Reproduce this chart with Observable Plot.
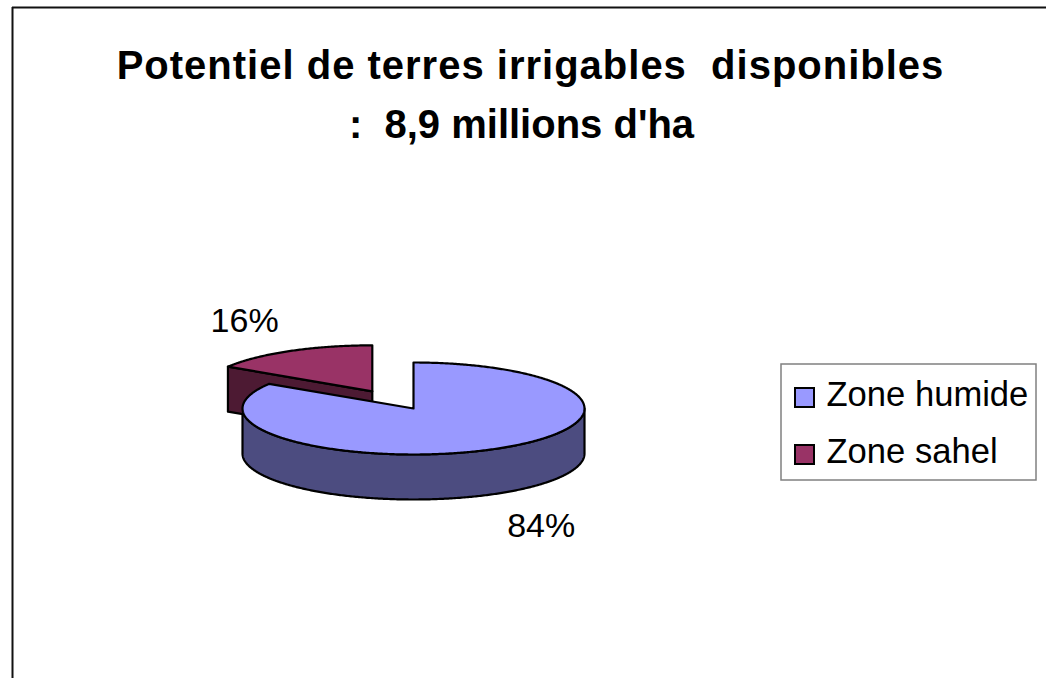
<!DOCTYPE html>
<html><head><meta charset="utf-8">
<script src="https://cdn.jsdelivr.net/npm/d3@7"></script>
<script src="https://cdn.jsdelivr.net/npm/@observablehq/plot@0.6"></script>
<style>
html,body{margin:0;padding:0;background:#fff;}
svg text{white-space:pre;}
</style></head><body><div id="chart"></div>
<script>
const categories = ["Zone humide", "Zone sahel"];
const values = [84, 16];
const valueLabels = ["84%", "16%"];
const colors = ["#9999FF", "#993366"];
const sideColors = ["#4C4C80", "#4D1A33"];
const exploded = [0, 0.5];
const titleLines = ["Potentiel de terres irrigables  disponibles", ":  8,9 millions d'ha"];

const W = 1046, H = 678;
const cx = 413, cy = 408, rx = 171, ry = 46, depth = 45;
const FONT = "'Liberation Sans', Arial, Helvetica, sans-serif";

const arcs = d3.pie().sort(null).value(d => d)(values);
function pt(ox, oy, a, dz = 0) { return {x: ox + rx * Math.sin(a), y: oy - ry * Math.cos(a) + dz}; }
function arcPts(ox, oy, a0, a1, dz = 0) {
  const n = Math.max(2, Math.ceil(Math.abs(a1 - a0) / 0.01));
  return d3.range(n + 1).map(i => pt(ox, oy, a0 + (a1 - a0) * i / n, dz));
}

const sideFaces = [], topFaces = [], labelPts = [];
arcs.forEach((a, i) => {
  const mid = (a.startAngle + a.endAngle) / 2;
  const e = exploded[i];
  const ox = cx + e * rx * Math.sin(mid), oy = cy - e * ry * Math.cos(mid) + (e ? 3 : 0);
  const V = {x: ox, y: oy}, Vd = {x: ox, y: oy + depth};
  if (Math.sin(a.startAngle) < -1e-6) {
    const E = pt(ox, oy, a.startAngle), Ed = pt(ox, oy, a.startAngle, depth);
    sideFaces.push({pts: [V, E, Ed, Vd, V], fill: sideColors[i]});
  }
  if (Math.sin(a.endAngle) > 1e-6) {
    const E = pt(ox, oy, a.endAngle), Ed = pt(ox, oy, a.endAngle, depth);
    sideFaces.push({pts: [V, E, Ed, Vd, V], fill: sideColors[i]});
  }
  const s0 = Math.max(a.startAngle, Math.PI / 2), s1 = Math.min(a.endAngle, 3 * Math.PI / 2);
  if (s1 > s0) {
    const top = arcPts(ox, oy, s0, s1), bot = arcPts(ox, oy, s1, s0, depth);
    sideFaces.push({pts: [...top, ...bot, top[0]], fill: sideColors[i]});
  }
  topFaces.push({pts: [V, ...arcPts(ox, oy, a.startAngle, a.endAngle), V], fill: colors[i]});
  const kx = 1.55, ky = 1.75;
  labelPts.push({
    x: ox + kx * rx * Math.sin(mid),
    y: oy - ky * ry * Math.cos(mid) + (Math.cos(mid) < 0 ? depth + 2 : 0),
    text: valueLabels[i]
  });
});

const faceMarks = [...sideFaces, ...topFaces].map(f =>
  Plot.line(f.pts, {x: "x", y: "y", fill: f.fill, stroke: "#000", strokeWidth: 2.2,
    strokeLinejoin: "round", curve: "linear"}));

const legendRows = categories.map((c, i) => ({c, i, color: colors[i]}));

const chart = Plot.plot({
  width: W, height: H, margin: 0,
  x: {domain: [0, W], range: [0, W], axis: null},
  y: {domain: [0, H], range: [0, H], axis: null},
  style: {fontFamily: FONT, background: "#fff", overflow: "visible"},
  marks: [
    Plot.ruleY([7], {x1: 12, x2: W, stroke: "#111", strokeWidth: 2}),
    Plot.ruleX([12], {y1: 7, y2: H, stroke: "#111", strokeWidth: 2}),
    Plot.text(titleLines.map((t, i) => ({t, i})), {
      x: d => d.i === 0 ? 530 : 521, y: d => 66 + d.i * 59, text: "t",
      fontSize: 40, fontWeight: "bold", fill: "#000", textAnchor: "middle", lineAnchor: "middle"
    }),
    ...faceMarks,
    Plot.text(labelPts, {x: "x", y: "y", text: "text", fontSize: 34, fill: "#000",
      textAnchor: "middle", lineAnchor: "middle"}),
    Plot.rect([0], {x1: 781, x2: 1036, y1: 364, y2: 480, fill: "#fff", stroke: "#808080", strokeWidth: 1.5}),
    Plot.rect(legendRows, {x1: 795, x2: 814, y1: d => 388 + d.i * 57, y2: d => 407 + d.i * 57,
      fill: "color", stroke: "#000", strokeWidth: 2}),
    Plot.text(legendRows, {x: 826, y: d => 394 + d.i * 57, text: "c", fontSize: 34.6, fill: "#000",
      textAnchor: "start", lineAnchor: "middle"})
  ]
});
d3.select(chart).selectAll("text").filter(function() { return this.textContent === titleLines[0]; })
  .attr("letter-spacing", "1px");
document.getElementById("chart").appendChild(chart);
</script></body></html>
